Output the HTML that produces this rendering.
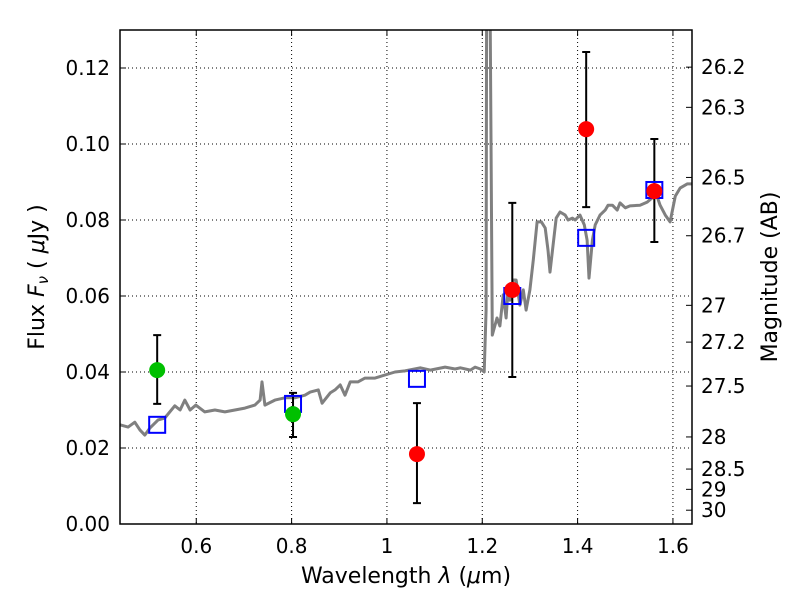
<!DOCTYPE html>
<html><head><meta charset="utf-8"><style>
body{margin:0;background:#fff}
svg text{font-family:"DejaVu Sans","Liberation Sans",sans-serif;fill:#000}
</style></head><body>
<svg id="chart" width="800" height="600" viewBox="0 0 800 600" xmlns="http://www.w3.org/2000/svg">
<defs><clipPath id="clip"><rect x="120" y="30" width="572" height="494"/></clipPath></defs>
<rect width="800" height="600" fill="#fff"/>
<g id="grid"></g>
<g id="spec" clip-path="url(#clip)"></g>
<g id="marks" clip-path="url(#clip)"></g>
<rect x="120" y="30" width="572" height="494" fill="none" stroke="#000" stroke-width="1.5"/>
<g id="axes"></g>
<text x="406" y="583" font-size="22" text-anchor="middle">Wavelength  <tspan font-style="italic">λ</tspan> (<tspan font-style="italic">μ</tspan>m)</text>
<text transform="translate(44,277) rotate(-90)" font-size="22" text-anchor="middle">Flux  <tspan font-style="italic">F</tspan><tspan font-style="italic" font-size="15" dy="4">ν</tspan><tspan dy="-4">  (  </tspan><tspan font-style="italic">μ</tspan>Jy )</text>
<text transform="translate(777,277) rotate(-90)" font-size="22" text-anchor="middle">Magnitude (AB)</text>
</svg>
<script>
const specWave=[0.440,0.457,0.471,0.482,0.492,0.503,0.520,0.534,0.555,0.566,0.576,0.587,0.599,0.618,0.639,0.660,0.681,0.702,0.723,0.734,0.738,0.744,0.765,0.786,0.807,0.828,0.839,0.856,0.864,0.881,0.891,0.902,0.912,0.923,0.939,0.954,0.975,0.996,1.017,1.038,1.070,1.091,1.122,1.143,1.154,1.175,1.185,1.196,1.204,1.208,1.210,1.213,1.221,1.227,1.231,1.237,1.244,1.250,1.254,1.258,1.265,1.271,1.279,1.286,1.292,1.300,1.307,1.315,1.324,1.332,1.338,1.342,1.347,1.355,1.363,1.374,1.380,1.389,1.395,1.405,1.414,1.420,1.424,1.431,1.437,1.447,1.458,1.464,1.473,1.483,1.489,1.500,1.510,1.531,1.546,1.556,1.567,1.573,1.584,1.594,1.605,1.615,1.630,1.640];
const specFlux=[.0261,.0255,.0268,.0247,.0234,.0253,.0274,.0279,.0311,.0300,.0326,.0300,.0313,.0295,.0300,.0295,.0300,.0305,.0313,.0326,.0374,.0313,.0326,.0332,.0332,.0339,.0347,.0353,.0318,.0345,.0353,.0366,.0339,.0374,.0374,.0384,.0384,.0392,.0400,.0403,.0411,.0405,.0413,.0408,.0411,.0405,.0413,.0408,.0400,.0563,.2,.2,.0497,.0524,.0542,.0521,.0603,.0542,.0616,.0589,.0642,.0642,.0576,.0616,.0563,.0616,.0695,.0795,.0795,.0779,.0721,.0663,.0716,.0805,.0821,.0813,.0800,.0805,.0800,.0813,.0787,.0747,.0647,.0747,.0787,.0813,.0826,.0839,.0839,.0826,.0845,.0832,.0837,.0839,.0847,.0858,.0861,.0839,.0813,.0795,.0863,.0884,.0895,.0895];
const modelWave=[0.518,0.803,1.063,1.263,1.418,1.561];
const modelFlux=[.0261,.0316,.0382,.0600,.0753,.0879];
const greenWave=[0.518,0.803];
const greenFlux=[.0405,.0289];
const greenHi=[.0497,.0345];
const greenLo=[.0316,.0229];
const redWave=[1.063,1.263,1.418,1.561];
const redFlux=[.0184,.0616,.1039,.0876];
const redHi=[.0318,.0845,.1242,.1013];
const redLo=[.0055,.0387,.0834,.0742];
const xTicks=[0.6,0.8,1.0,1.2,1.4,1.6];
const xTickLabels=["0.6","0.8","1","1.2","1.4","1.6"];
const yTicks=[0,0.02,0.04,0.06,0.08,0.10,0.12];
const yTickLabels=["0.00","0.02","0.04","0.06","0.08","0.10","0.12"];
const magTicks=[26.2,26.3,26.5,26.7,27,27.2,27.5,28,28.5,29,30];
const magTickLabels=["26.2","26.3","26.5","26.7","27","27.2","27.5","28","28.5","29","30"];

const X0=120,X1=692,Y0=524,Y1=30,XMIN=0.44,XMAX=1.64,YMIN=0,YMAX=0.13;
const xs=v=>X0+(v-XMIN)/(XMAX-XMIN)*(X1-X0);
const ys=v=>Y0-(v-YMIN)/(YMAX-YMIN)*(Y0-Y1);
const NS="http://www.w3.org/2000/svg";
function mk(tag,attrs,parent){const e=document.createElementNS(NS,tag);for(const k in attrs)e.setAttribute(k,attrs[k]);parent.appendChild(e);return e;}
const grid=document.getElementById('grid'),axes=document.getElementById('axes'),spec=document.getElementById('spec'),marks=document.getElementById('marks');
xTicks.forEach((t,i)=>{const x=xs(t);
 let g=mk('line',{x1:x,x2:x,y1:Y1,y2:Y0,stroke:'#000','stroke-width':1,'stroke-dasharray':'1,3'},grid);
 
 
 let a=mk('line',{x1:x,x2:x,y1:Y0,y2:Y0-6,stroke:'#000'},axes);
 
 
 let b=mk('line',{x1:x,x2:x,y1:Y1,y2:Y1+6,stroke:'#000'},axes);
 
 
 let l=mk('text',{x:x,y:553,'font-size':20,'text-anchor':'middle'},axes);l.textContent=xTickLabels[i];
 
 
});
yTicks.forEach((t,i)=>{const y=ys(t);
 let g=mk('line',{x1:X0,x2:X1,y1:y,y2:y,stroke:'#000','stroke-width':1,'stroke-dasharray':'1,3'},grid);
 
 
 let a=mk('line',{x1:X0,x2:X0+6,y1:y,y2:y,stroke:'#000'},axes);
 
 
 let l=mk('text',{x:110,y:y+7,'font-size':20,'text-anchor':'end'},axes);l.textContent=yTickLabels[i];
 
 
});
magTicks.forEach((m,i)=>{const f=Math.pow(10,(23.9-m)/2.5);const y=ys(f);
 let a=mk('line',{x1:X1,x2:X1-6,y1:y,y2:y,stroke:'#000'},axes);
 
 
 let l=mk('text',{x:701,y:y+7,'font-size':20,'text-anchor':'start'},axes);l.textContent=magTickLabels[i];
 
 
});
let d=specWave.map((w,i)=>(i?'L':'M')+xs(w).toFixed(1)+','+ys(specFlux[i]).toFixed(1)).join('');
let p=mk('path',{d:d,fill:'none',stroke:'#808080','stroke-width':3,'stroke-linejoin':'round'},spec);


function errbar(w,lo,hi){const x=xs(w);
 let e=mk('path',{d:`M${x},${ys(lo)}L${x},${ys(hi)}M${x-4},${ys(lo)}L${x+4},${ys(lo)}M${x-4},${ys(hi)}L${x+4},${ys(hi)}`,stroke:'#000','stroke-width':2,fill:'none'},marks);
 
 }
greenWave.forEach((w,i)=>errbar(w,greenLo[i],greenHi[i]));
redWave.forEach((w,i)=>errbar(w,redLo[i],redHi[i]));
modelWave.forEach((w,i)=>{
 let r=mk('rect',{x:xs(w)-8,y:ys(modelFlux[i])-8,width:16,height:16,fill:'none',stroke:'#0000ff','stroke-width':2},marks);
 
 });
greenWave.forEach((w,i)=>{
 let c=mk('circle',{cx:xs(w),cy:ys(greenFlux[i]),r:8,fill:'#00c000'},marks);
 
 });
redWave.forEach((w,i)=>{
 let c=mk('circle',{cx:xs(w),cy:ys(redFlux[i]),r:8,fill:'#ff0000'},marks);
 
 });
</script>
</body></html>
